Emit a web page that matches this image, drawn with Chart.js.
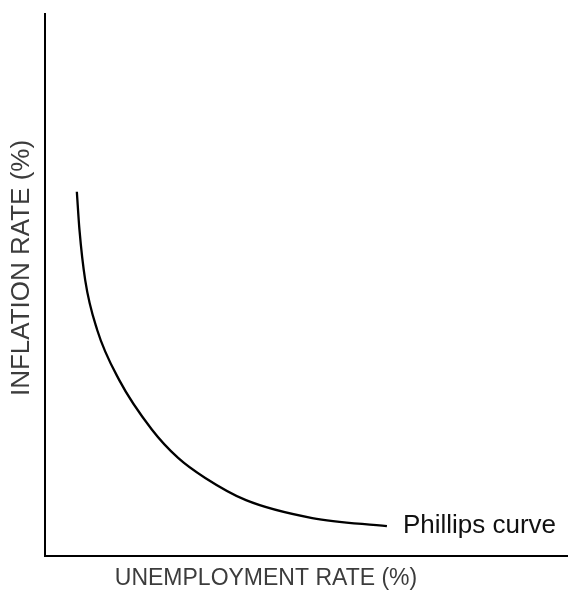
<!DOCTYPE html>
<html>
<head>
<meta charset="utf-8">
<script src="https://cdn.jsdelivr.net/npm/chart.js@4"></script>
<style>
  html, body { margin: 0; padding: 0; background: #fff; }
  #wrap { width: 572px; height: 593px; position: relative; }
</style>
</head>
<body>
<div id="wrap"><canvas id="phillips"></canvas></div>
<script>
// curve (arbitrary units, 0-100 on both axes)
const unemployment = [6.1, 6.6, 7.7, 10.0, 14.2, 20.5, 25.5, 30.7, 38.5, 51.2, 65.5];
const inflation    = [67.2, 60.2, 50.9, 41.7, 32.5, 23.3, 18.1, 14.4, 10.3, 7.0, 5.5];

const xTitle = "UNEMPLOYMENT RATE (%)";
const yTitle = "INFLATION RATE (%)";
const curveLabel = "Phillips curve";

// axis titles + curve label drawn on the canvas
const labels = {
  id: "labels",
  afterDraw(chart) {
    const ctx = chart.ctx;
    const area = chart.chartArea;
    ctx.save();
    ctx.textAlign = "center";
    ctx.textBaseline = "middle";

    ctx.fillStyle = "#3c3c3c";
    ctx.font = "23px 'Liberation Sans', Arial, sans-serif";
    ctx.fillText(xTitle, area.left + 221, area.bottom + 23);

    ctx.save();
    ctx.translate(area.left - 23, area.top + 254);
    ctx.rotate(-Math.PI / 2);
    ctx.font = "26px 'Liberation Sans', Arial, sans-serif";
    ctx.fillText(yTitle, 0, 0);
    ctx.restore();

    // label next to the end of the curve
    const pts = chart.getDatasetMeta(0).data;
    const last = pts[pts.length - 1];
    ctx.fillStyle = "#111";
    ctx.textAlign = "left";
    ctx.font = "26px 'Liberation Sans', Arial, sans-serif";
    ctx.fillText(curveLabel, last.x + 16, last.y);
    ctx.restore();
  }
};

const noTicks = {
  min: 0,
  max: 100,
  ticks: { display: false },
  grid: { display: false, drawTicks: false },
  border: { display: true, color: "#000", width: 2 }
};

new Chart(document.getElementById("phillips"), {
  type: "line",
  data: {
    datasets: [{
      data: unemployment.map((u, i) => ({ x: u, y: inflation[i] })),
      borderColor: "#000",
      borderWidth: 2.3,
      pointRadius: 0,
      fill: false,
      cubicInterpolationMode: "monotone"
    }]
  },
  options: {
    responsive: true,
    maintainAspectRatio: false,
    animation: false,
    layout: { padding: { left: 45, top: 14, right: 5, bottom: 37 } },
    plugins: { legend: { display: false }, tooltip: { enabled: false } },
    scales: {
      x: { type: "linear", ...noTicks },
      y: { type: "linear", ...noTicks }
    }
  },
  plugins: [labels]
});
</script>
</body>
</html>
